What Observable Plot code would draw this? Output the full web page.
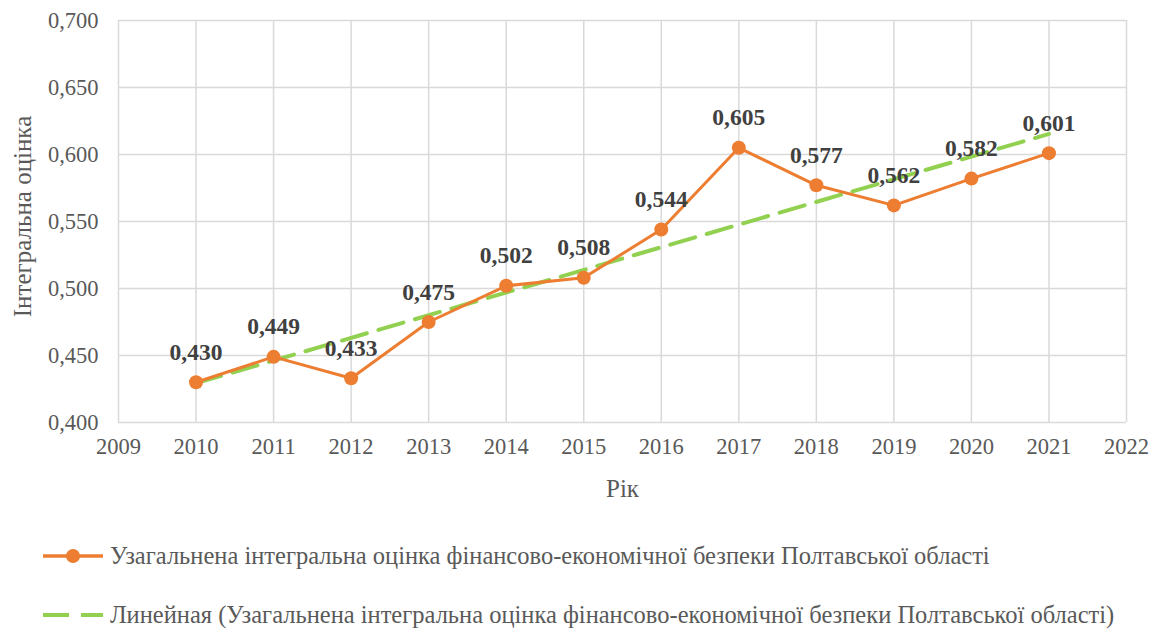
<!DOCTYPE html>
<html>
<head>
<meta charset="utf-8">
<script src="https://cdn.jsdelivr.net/npm/d3@7"></script>
<script src="https://cdn.jsdelivr.net/npm/@observablehq/plot@0.6"></script>
<style>
  body { margin: 0; background: #fff; }
  #wrap { position: relative; width: 1165px; height: 637px; font-family: 'Liberation Serif', 'DejaVu Serif', serif; }
  .leg { position: absolute; left: 42px; display: flex; align-items: center; font-size: 24.5px; color: #595959; white-space: nowrap; }
  .leg svg { margin-right: 6px; }
</style>
</head>
<body>
<div id="wrap">
  <div id="chart"></div>
  <div class="leg" style="top:541px">
    <svg width="62" height="30"><line x1="1" y1="15" x2="61" y2="15" stroke="#ED7D31" stroke-width="3.5"/><circle cx="31" cy="15" r="7" fill="#ED7D31"/></svg>
    <span id="leg1"></span>
  </div>
  <div class="leg" style="top:600px">
    <svg width="62" height="30"><line x1="1" y1="15" x2="61" y2="15" stroke="#92D050" stroke-width="4" stroke-dasharray="26 12"/></svg>
    <span id="leg2"></span>
  </div>
</div>
<script>
const years = [2010, 2011, 2012, 2013, 2014, 2015, 2016, 2017, 2018, 2019, 2020, 2021];
const values = [0.430, 0.449, 0.433, 0.475, 0.502, 0.508, 0.544, 0.605, 0.577, 0.562, 0.582, 0.601];
const xTicks = [2009, 2010, 2011, 2012, 2013, 2014, 2015, 2016, 2017, 2018, 2019, 2020, 2021, 2022];
const yTicks = [0.400, 0.450, 0.500, 0.550, 0.600, 0.650, 0.700];
const seriesName = "Узагальнена інтегральна оцінка фінансово-економічної безпеки Полтавської області";
const trendName = "Линейная (" + seriesName + ")";
const yLabel = "Інтегральна оцінка";
const xLabel = "Рік";

const data = years.map((y, i) => ({year: y, value: values[i]}));
const fmt = v => d3.format(".3f")(v).replace(".", ",");
const FONT = "'Liberation Serif', 'DejaVu Serif', serif";

document.getElementById("leg1").textContent = seriesName;
document.getElementById("leg2").textContent = trendName;

const chart = Plot.plot({
  width: 1165,
  height: 500,
  marginLeft: 118,
  marginRight: 39,
  marginTop: 20,
  marginBottom: 78,
  style: {fontFamily: FONT, fontSize: "22px", color: "#595959", background: "#fff"},
  x: {domain: [2009, 2022]},
  y: {domain: [0.4, 0.7]},
  marks: [
    Plot.ruleX(xTicks, {stroke: "#d9d9d9", strokeWidth: 1.5}),
    Plot.ruleY(yTicks, {stroke: "#d9d9d9", strokeWidth: 1.5}),
    Plot.axisX({ticks: xTicks, tickSize: 0, tickPadding: 16, tickFormat: d => String(d), label: null, fontSize: 22.5, fontFamily: FONT, fill: "#595959"}),
    Plot.axisY({ticks: yTicks, tickSize: 0, tickPadding: 20, tickFormat: fmt, label: null, fontSize: 22.5, fontFamily: FONT, fill: "#595959"}),
    Plot.linearRegressionY(data, {x: "year", y: "value", ci: 0, stroke: "#92D050", strokeWidth: 4, strokeDasharray: "26 12"}),
    Plot.line(data, {x: "year", y: "value", stroke: "#ED7D31", strokeWidth: 3}),
    Plot.dot(data, {x: "year", y: "value", r: 7, fill: "#ED7D31", stroke: "none"}),
    Plot.text(data, {x: "year", y: "value", text: d => fmt(d.value), dy: -30, fontSize: 23.5, fontWeight: "bold", fontFamily: FONT, fill: "#404040"}),
    Plot.text([yLabel], {frameAnchor: "left", dx: -96, dy: -5, rotate: -90, textAnchor: "middle", lineAnchor: "middle", fontSize: 25, fontFamily: FONT, fill: "#595959"}),
    Plot.text([xLabel], {frameAnchor: "bottom", dy: 66, textAnchor: "middle", lineAnchor: "middle", fontSize: 25, fontFamily: FONT, fill: "#595959"})
  ]
});
document.getElementById("chart").appendChild(chart);
</script>
</body>
</html>
